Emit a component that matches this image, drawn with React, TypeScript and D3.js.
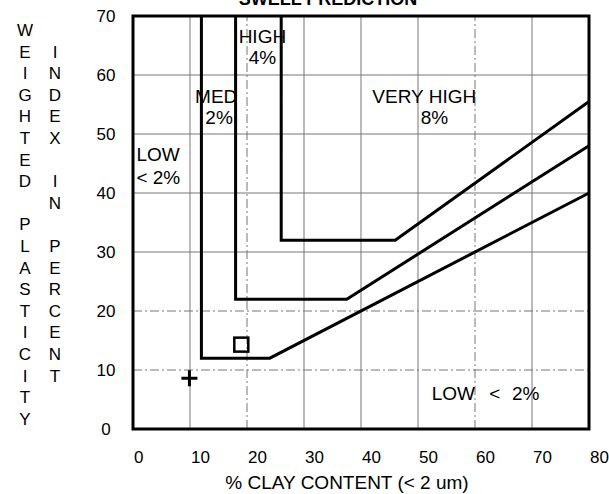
import React, { useRef, useEffect } from "react";
import * as d3 from "d3";

// tick values
const xTicks = [0, 10, 20, 30, 40, 50, 60, 70, 80];
const yTicks = [0, 10, 20, 30, 40, 50, 60, 70];
// grid lines that look broken (dashed) on the scan
const dashedX = [20, 60];
const dashedY = [10, 20];

// class boundaries (clay %, weighted PI)
const lowMedX = [12, 12, 24, 80];
const lowMedY = [70, 12, 12, 40];
const medHighX = [18, 18, 37.5, 80];
const medHighY = [70, 22, 22, 48];
const highVhX = [26, 26, 46, 80];
const highVhY = [70, 32, 32, 55.5];

// sample points
const squarePt = [19, 14.3];
const plusPt = [9.9, 8.6];

// region labels: text, x, y (data units), anchor
const regionLabels: [string, number, number, string][] = [
  ["HIGH", 22.7, 65.5, "middle"],
  ["4%", 22.7, 61.9, "middle"],
  ["MED", 14.6, 55.3, "middle"],
  ["2%", 15.1, 51.7, "middle"],
  ["VERY HIGH", 51.1, 55.3, "middle"],
  ["8%", 52.9, 51.7, "middle"],
  ["LOW", 0.6, 45.5, "start"],
  ["< 2%", 0.6, 41.5, "start"],
  ["LOW", 52.4, 4.9, "start"],
  ["<", 62.5, 4.9, "start"],
  ["2%", 66.5, 4.9, "start"],
];

const yTitle1 = "WEIGHTED PLASTICITY";
const yTitle2 = " INDEX IN PERCENT";
const xTitle = "% CLAY CONTENT (< 2 um)";
const title = "SWELL PREDICTION";

const FONT = "'Liberation Sans', Arial, Helvetica, sans-serif";

const App = () => {
  const svgRef = useRef<SVGSVGElement>(null);

  useEffect(() => {
    const svg = d3.select(svgRef.current);
    svg.selectAll("*").remove();

    const x = d3.scaleLinear().domain([0, 80]).range([133, 589]);
    const y = d3.scaleLinear().domain([0, 70]).range([429, 16]);

    svg.append("rect").attr("width", 609).attr("height", 494).attr("fill", "#fff");

    // grid
    const grid = svg.append("g").attr("stroke", "#777").attr("stroke-width", 1);
    grid
      .selectAll(".gx")
      .data(xTicks.slice(1, -1))
      .enter()
      .append("line")
      .attr("x1", (d) => x(d))
      .attr("x2", (d) => x(d))
      .attr("y1", y(0))
      .attr("y2", y(70))
      .attr("stroke-dasharray", (d) => (dashedX.includes(d) ? "9,3,2,3" : null));
    grid
      .selectAll(".gy")
      .data(yTicks.slice(1, -1))
      .enter()
      .append("line")
      .attr("x1", x(0))
      .attr("x2", x(80))
      .attr("y1", (d) => y(d))
      .attr("y2", (d) => y(d))
      .attr("stroke-dasharray", (d) => (dashedY.includes(d) ? "9,3,2,3" : null));

    // boundaries between swell classes
    const drawBoundary = (xs: number[], ys: number[]) => {
      const pts = xs.map((v, i) => [x(v), y(ys[i])] as [number, number]);
      svg
        .append("path")
        .attr("d", d3.line()(pts))
        .attr("fill", "none")
        .attr("stroke", "#000")
        .attr("stroke-width", 3);
    };
    drawBoundary(lowMedX, lowMedY);
    drawBoundary(medHighX, medHighY);
    drawBoundary(highVhX, highVhY);

    // frame
    svg
      .append("rect")
      .attr("x", x(0))
      .attr("y", y(70))
      .attr("width", x(80) - x(0))
      .attr("height", y(0) - y(70))
      .attr("fill", "none")
      .attr("stroke", "#000")
      .attr("stroke-width", 3);

    // markers
    svg
      .append("rect")
      .attr("x", x(squarePt[0]) - 7)
      .attr("y", y(squarePt[1]) - 7)
      .attr("width", 14)
      .attr("height", 14)
      .attr("fill", "none")
      .attr("stroke", "#000")
      .attr("stroke-width", 2.5);
    const px = x(plusPt[0]);
    const py = y(plusPt[1]);
    svg
      .append("path")
      .attr("d", `M${px - 8},${py}h16M${px},${py - 8}v16`)
      .attr("stroke", "#000")
      .attr("stroke-width", 3);

    // labels
    svg
      .selectAll(".rl")
      .data(regionLabels)
      .enter()
      .append("text")
      .attr("x", (d) => x(d[1]))
      .attr("y", (d) => y(d[2]))
      .attr("text-anchor", (d) => d[3])
      .style("font-family", FONT)
      .style("font-size", "19px")
      .text((d) => d[0]);

    // tick labels
    svg
      .selectAll(".xt")
      .data(xTicks)
      .enter()
      .append("text")
      .attr("x", (d) => x(d) + 1)
      .attr("y", 463)
      .style("font-family", FONT)
      .style("font-size", "17px")
      .text((d) => d);
    svg
      .selectAll(".yt")
      .data(yTicks)
      .enter()
      .append("text")
      .attr("x", 106)
      .attr("y", (d) => y(d) + 6)
      .attr("text-anchor", "middle")
      .style("font-family", FONT)
      .style("font-size", "17px")
      .text((d) => d);

    // titles
    svg
      .append("text")
      .attr("x", 347)
      .attr("y", 489)
      .attr("text-anchor", "middle")
      .style("font-family", FONT)
      .style("font-size", "19px")
      .text(xTitle);
    svg
      .append("text")
      .attr("x", 328)
      .attr("y", 5)
      .attr("text-anchor", "middle")
      .style("font-family", FONT)
      .style("font-size", "18px")
      .style("font-weight", "bold")
      .text(title);

    // stacked-letter y titles
    const rowStep = 21.6;
    const drawColumn = (s: string, cx: number) => {
      svg
        .append("g")
        .selectAll("text")
        .data(s.split(""))
        .enter()
        .append("text")
        .attr("x", cx)
        .attr("y", (d, i) => 36 + i * rowStep)
        .attr("text-anchor", "middle")
        .style("font-family", FONT)
        .style("font-size", "17px")
        .text((d) => d);
    };
    drawColumn(yTitle1, 25);
    drawColumn(yTitle2, 55);
  }, []);

  return (
    <svg
      ref={svgRef}
      width={609}
      height={494}
      style={{ position: "absolute", left: 0, top: 0 }}
    ></svg>
  );
};

export default App;
